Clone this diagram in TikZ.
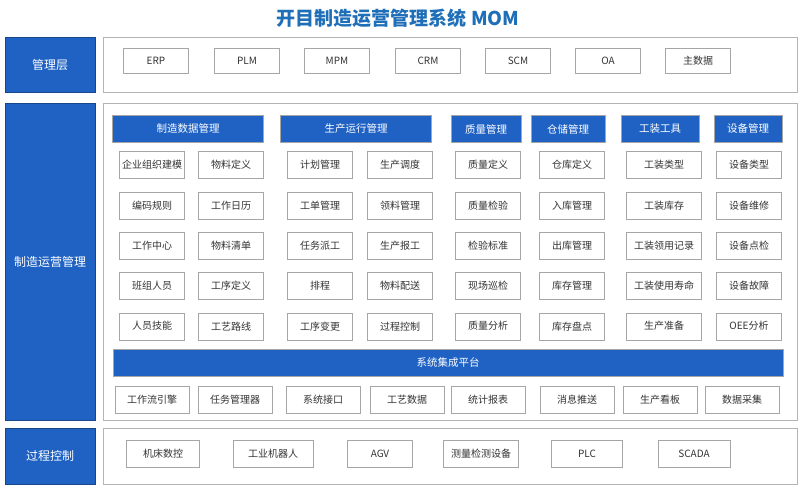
\documentclass[tikz,border=0pt]{standalone}
\usepackage{fontspec}
\setmainfont{Noto Sans CJK SC}
\usetikzlibrary{positioning}
\definecolor{momblue}{HTML}{1F62C4}
\definecolor{titleblue}{HTML}{1F6FB8}
\definecolor{panelgray}{HTML}{B4B4B4}
\newcommand{\rowy}[1]{165+40.3*(#1-1)}

\tikzset{
  layerbox/.style={fill=momblue, draw=momblue!70!black, text=white, font=\fontsize{12}{14}\selectfont, minimum width=90pt, inner sep=0pt},
  panel/.style={draw=panelgray, line width=0.8pt, fill=white, minimum width=694pt, inner sep=0pt},
  headbox/.style={fill=momblue, draw=gray!70, text=white, font=\fontsize{10.5}{12}\selectfont, minimum height=27pt, inner sep=0pt},
  itembox/.style={draw=gray!70, fill=white, text=black!80, font=\fontsize{10}{12}\selectfont, minimum height=27pt, minimum width=65pt, inner sep=0pt},
}

\begin{document}
\begin{tikzpicture}[x=1pt,y=-1pt]
\useasboundingbox (0,0) rectangle (800,487);
\node[font=\bfseries\fontsize{19}{22}\selectfont, text=titleblue] (title) at (398,18) {开目制造运营管理系统 MOM};

% === LAYER LABELS ===
\node[layerbox, minimum height=55pt] (mgmt) at (50,64.5) {管理层};
\node[layerbox, minimum height=317pt] (ops) at (50,261.5) {制造运营管理};
\node[layerbox, minimum height=56pt] (ctrl) at (50,456) {过程控制};

% === PANELS ===
\node[panel, minimum height=55pt] (toppanel) at (450,64.5) {};
\node[panel, minimum height=317pt] (midpanel) at (450,261.5) {};
\node[panel, minimum height=56pt] (botpanel) at (450,456) {};

% === MANAGEMENT SYSTEMS ===
\node[itembox, minimum height=25pt] (erp) at (156,61) {ERP};
\node[itembox, minimum height=25pt] (plm) at (247,61) {PLM};
\node[itembox, minimum height=25pt] (mpm) at (337,61) {MPM};
\node[itembox, minimum height=25pt] (crm) at (428,61) {CRM};
\node[itembox, minimum height=25pt] (scm) at (518,61) {SCM};
\node[itembox, minimum height=25pt] (oa) at (608,61) {OA};
\node[itembox, minimum height=25pt] (mdm) at (698,61) {主数据};

% === MODULE HEADERS ===
\node[headbox, minimum width=151pt] (hdata) at (188,129) {制造数据管理};
\node[headbox, minimum width=151pt] (hrun) at (356,129) {生产运行管理};
\node[headbox, minimum width=70pt] (hqual) at (486,129) {质量管理};
\node[headbox, minimum width=74pt] (hware) at (568,129) {仓储管理};
\node[headbox, minimum width=78pt] (htool) at (660,129) {工装工具};
\node[headbox, minimum width=68pt] (hequ) at (748,129) {设备管理};

% === MODULE ITEMS ===
\foreach \txt [count=\r] in {企业组织建模,编码规则,工作中心,班组人员,人员技能}
  \node[itembox] (c1a-\r) at (152,{\rowy{\r}}) {\txt};
\foreach \txt [count=\r] in {物料定义,工作日历,物料清单,工序定义,工艺路线}
  \node[itembox] (c1b-\r) at (231,{\rowy{\r}}) {\txt};
\foreach \txt [count=\r] in {计划管理,工单管理,任务派工,排程,工序变更}
  \node[itembox] (c2a-\r) at (320,{\rowy{\r}}) {\txt};
\foreach \txt [count=\r] in {生产调度,领料管理,生产报工,物料配送,过程控制}
  \node[itembox] (c2b-\r) at (400,{\rowy{\r}}) {\txt};
\foreach \txt [count=\r] in {质量定义,质量检验,检验标准,现场巡检,质量分析}
  \node[itembox] (c3-\r) at (488,{\rowy{\r}}) {\txt};
\foreach \txt [count=\r] in {仓库定义,入库管理,出库管理,库存管理,库存盘点}
  \node[itembox] (c4-\r) at (572,{\rowy{\r}}) {\txt};
\foreach \txt [count=\r] in {工装类型,工装库存,工装领用记录,工装使用寿命,生产准备}
  \node[itembox, minimum width=75pt] (c5-\r) at (664,{\rowy{\r}}) {\txt};
\foreach \txt [count=\r] in {设备类型,设备维修,设备点检,设备故障,OEE分析}
  \node[itembox] (c6-\r) at (749,{\rowy{\r}}) {\txt};

% === PLATFORM BAR ===
\node[headbox, minimum width=670pt] (bar) at (448,363) {系统集成平台};
\foreach \txt/\xc [count=\i] in {工作流引擎/152, 任务管理器/235, 系统接口/323, 工艺数据/407,
    统计报表/488, 消息推送/577, 生产看板/660, 数据采集/742}
  \node[itembox, minimum width=74pt] (plat-\i) at (\xc,400) {\txt};

% === CONTROL DEVICES ===
\node[itembox, minimum width=73pt] (cnc) at (163,454) {机床数控};
\node[itembox, minimum width=80pt] (robot) at (273,454) {工业机器人};
\node[itembox, minimum width=65pt] (agv) at (380,454) {AGV};
\node[itembox, minimum width=75pt] (meas) at (481,454) {测量检测设备};
\node[itembox, minimum width=71pt] (plc) at (587,454) {PLC};
\node[itembox, minimum width=72pt] (scada) at (694,454) {SCADA};
\end{tikzpicture}
\end{document}
